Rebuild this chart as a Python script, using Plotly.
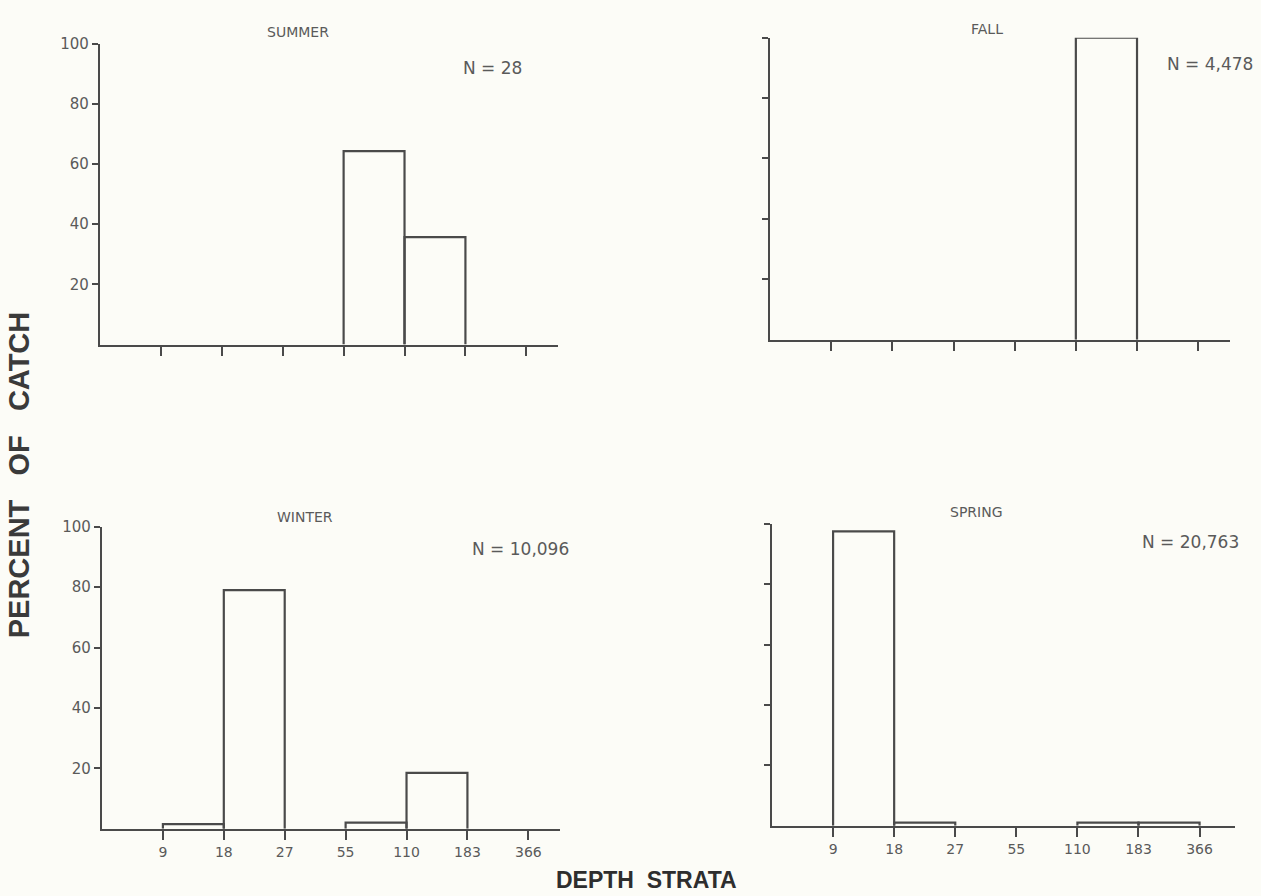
import plotly.graph_objects as go

# ---- data ----
depth_ticks = ["9", "18", "27", "55", "110", "183", "366"]
bin_labels = ["9-18", "18-27", "27-55", "55-110", "110-183", "183-366"]
summer = [0, 0, 0, 64.3, 35.7, 0]
fall = [0, 0, 0, 0, 100, 0]
winter = [1.5, 79, 0, 2, 18.5, 0]
spring = [97.5, 1, 0, 0, 1, 1]
panel_titles = ["SUMMER", "FALL", "WINTER", "SPRING"]
panel_n = ["N = 28", "N = 4,478", "N = 10,096", "N = 20,763"]
y_ticks = [20, 40, 60, 80, 100]

W, H = 1261, 896
LINE = "#4a4a4a"
TXT = "#5a5a5a"
BG = "#fcfcf7"
LW = 2.2

def px(x):
    return x / W

def py(y):
    return 1 - y / H

# panel geometry (pixels): x0, x1, baseline y, top(100) y, xmax in tick units
panels = [
    dict(x0=100, x1=558, yb=339, yt=35, xmax=7.52, labels=False, ylabels=True),
    dict(x0=770, x1=1230, yb=334, yt=29, xmax=7.52, labels=False, ylabels=False),
    dict(x0=102, x1=560, yb=828, yt=523, xmax=7.52, labels=True, ylabels=True),
    dict(x0=772, x1=1235, yb=825, yt=520, xmax=7.58, labels=True, ylabels=False),
]
series = [summer, fall, winter, spring]


def outline(vals):
    """Open rectangles (no bottom edge) for each non-empty depth bin."""
    xs, ys = [], []
    for j, v in enumerate(vals):
        if v > 0:
            left, right = j + 1, j + 2
            xs += [left, left, right, right, None]
            ys += [0, v, v, 0, None]
    return xs, ys


fig = go.Figure()
layout = {}
for i, (p, vals) in enumerate(zip(panels, series)):
    k = "" if i == 0 else str(i + 1)
    xs, ys = outline(vals)
    fig.add_trace(go.Scatter(
        x=xs, y=ys, mode="lines",
        line=dict(color=LINE, width=LW),
        xaxis="x" + k, yaxis="y" + k, showlegend=False, cliponaxis=False,
        hoverinfo="skip",
    ))
    layout["xaxis" + k] = dict(
        domain=[px(p["x0"]), px(p["x1"])], anchor="y" + k,
        range=[0, p["xmax"]], showgrid=False, zeroline=False,
        showline=True, linecolor=LINE, linewidth=LW,
        ticks="outside", ticklen=9, tickwidth=2, tickcolor=LINE,
        tickvals=list(range(1, 8)),
        ticktext=depth_ticks if p["labels"] else [""] * 7,
        tickfont=dict(family="DejaVu Sans", size=14, color=TXT),
        fixedrange=True,
    )
    layout["yaxis" + k] = dict(
        domain=[py(p["yb"]), py(p["yt"])], anchor="x" + k,
        range=[0, 100], showgrid=False, zeroline=False,
        showline=True, linecolor=LINE, linewidth=LW,
        ticks="outside", ticklen=6, tickwidth=2, tickcolor=LINE,
        tickvals=y_ticks,
        ticktext=[str(v) for v in y_ticks] if p["ylabels"] else [""] * 5,
        tickfont=dict(family="DejaVu Sans", size=15, color=TXT),
        fixedrange=True,
    )

title_pos = [(298, 23), (987, 20), (305, 513), (976, 508)]
n_pos = [(492, 60), (1210, 56), (520, 545), (1190, 538)]
ann = []
for t, (x, y) in zip(panel_titles, title_pos):
    ann.append(dict(text=t, x=px(x), y=py(y), xref="paper", yref="paper",
                    showarrow=False, xanchor="center", yanchor="middle",
                    font=dict(family="DejaVu Sans", size=14, color=TXT)))
for t, (x, y) in zip(panel_n, n_pos):
    ann.append(dict(text=t, x=px(x), y=py(y), xref="paper", yref="paper",
                    showarrow=False, xanchor="center", yanchor="middle",
                    font=dict(family="DejaVu Sans", size=17, color=TXT)))
ann.append(dict(text="<b>PERCENT   OF   CATCH</b>", x=px(19), y=py(471), xref="paper", yref="paper",
                showarrow=False, textangle=-90, xanchor="center", yanchor="middle",
                font=dict(family="Liberation Sans", size=29, color="#3a3a3a")))
ann.append(dict(text="<b>DEPTH  STRATA</b>", x=px(646), y=py(880), xref="paper", yref="paper",
                showarrow=False, xanchor="center", yanchor="middle",
                font=dict(family="Liberation Sans", size=23, color="#2e2e2e")))

fig.update_layout(
    width=W, height=H, margin=dict(l=0, r=0, t=0, b=0),
    paper_bgcolor=BG, plot_bgcolor=BG,
    annotations=ann, **layout,
)
fig.write_html("out.html")
